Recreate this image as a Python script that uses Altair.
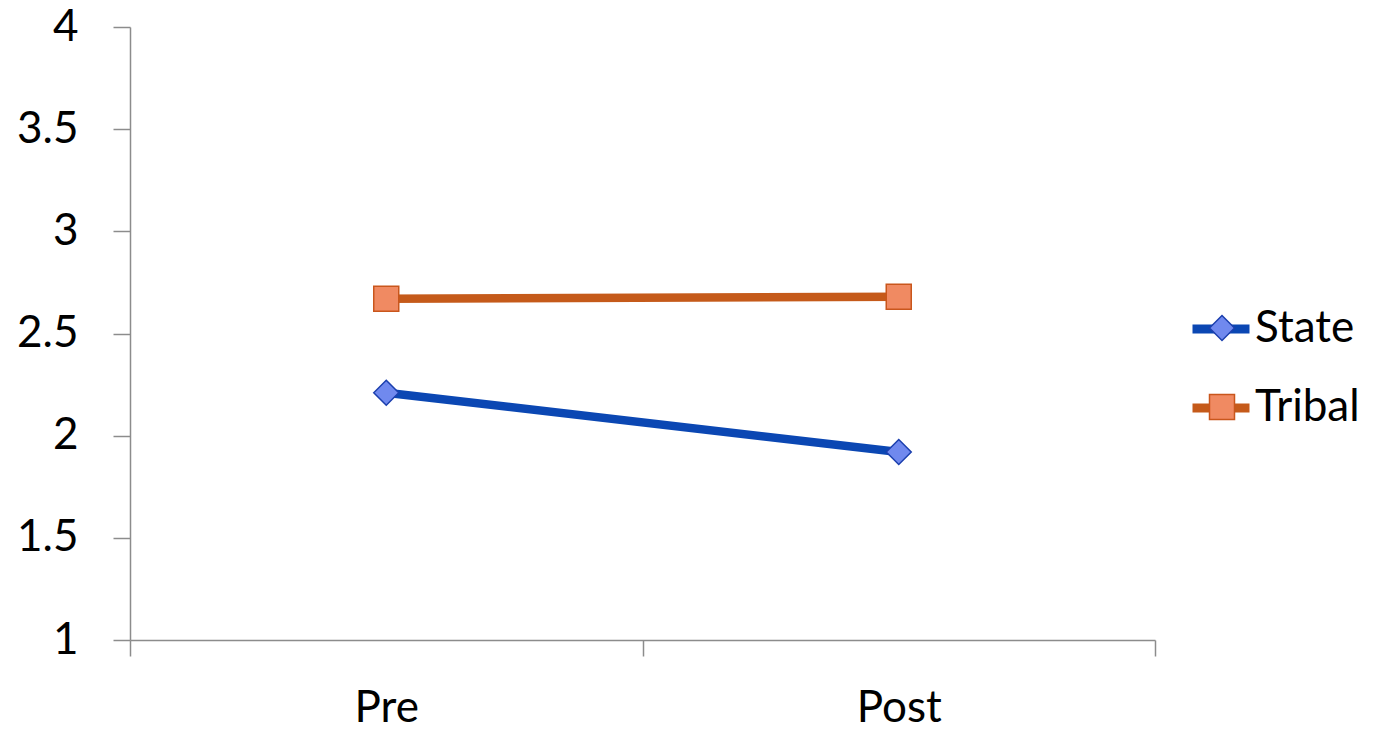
import altair as alt
import pandas as pd

# ---- data ----
periods = ["Pre", "Post"]
series_names = ["State", "Tribal"]
state_values = [2.21, 1.92]
tribal_values = [2.67, 2.68]
y_ticks = [1, 1.5, 2, 2.5, 3, 3.5, 4]

# ---- styles ----
line_colors = ["#0b47b3", "#c55a1a"]
marker_fills = ["#7089ee", "#f08a62"]
marker_strokes = ["#1b3fae", "#c9561c"]
marker_shapes = ["diamond", "square"]
FONT = "Lato"
AXIS_GREY = "#8c8c8c"
FS = 44

rows = []
for name, vals in zip(series_names, [state_values, tribal_values]):
    for p, v in zip(periods, vals):
        rows.append({"period": p, "series": name, "value": v})
df = pd.DataFrame(rows)
df["marker"] = df["series"] + " marker"
marker_domain = [s + " marker" for s in series_names]

x = alt.X(
    "period:N",
    sort=periods,
    scale=alt.Scale(type="band", domain=periods, paddingInner=0, paddingOuter=0),
    axis=alt.Axis(
        title=None, labelAngle=0, tickBand="extent", tickSize=16,
        labelPadding=30, labelFontSize=FS,
    ),
)
y = alt.Y(
    "value:Q",
    scale=alt.Scale(domain=[1, 4], nice=False, zero=False),
    axis=alt.Axis(
        title=None, values=y_ticks, format="~g", grid=False,
        tickSize=17, labelPadding=35, labelFontSize=FS,
    ),
)

line_legend = alt.Legend(
    title=None, orient="none", legendX=1058, legendY=269,
    symbolType="stroke", symbolSize=3249, symbolStrokeWidth=9,
    labelFontSize=FS, labelFont=FONT, labelColor="black",
    labelOffset=1, rowPadding=24, padding=0,
)
marker_legend = alt.Legend(
    title=None, orient="none", legendX=1070, legendY=279,
    symbolSize=625, symbolStrokeWidth=1.5, symbolOpacity=1,
    labelFontSize=FS, labelFont=FONT, labelExpr="''",
    labelOffset=1, rowPadding=35, padding=0,
)

lines = alt.Chart(df).mark_line(strokeWidth=8.5).encode(
    x=x,
    y=y,
    color=alt.Color(
        "series:N",
        scale=alt.Scale(domain=series_names, range=line_colors),
        legend=line_legend,
    ),
)

points = alt.Chart(df).mark_point(
    filled=True, opacity=1, size=625, strokeWidth=1.5
).encode(
    x=x,
    y=y,
    fill=alt.Fill("marker:N", scale=alt.Scale(domain=marker_domain, range=marker_fills), legend=marker_legend),
    stroke=alt.Stroke("marker:N", scale=alt.Scale(domain=marker_domain, range=marker_strokes), legend=marker_legend),
    shape=alt.Shape("marker:N", scale=alt.Scale(domain=marker_domain, range=marker_shapes), legend=marker_legend),
)

chart = (
    alt.layer(lines, points)
    .properties(
        width=1025,
        height=613,
        autosize=alt.AutoSizeParams(type="none"),
        padding={"left": 130, "top": 27, "right": 226, "bottom": 89},
        background="white",
    )
    .configure_view(stroke=None)
    .configure_axis(
        domainColor=AXIS_GREY, tickColor=AXIS_GREY, domainWidth=1.5, tickWidth=1.5,
        labelFont=FONT, labelColor="black",
    )
)

chart.save("out.html", embed_options={"renderer": "svg", "actions": False})
